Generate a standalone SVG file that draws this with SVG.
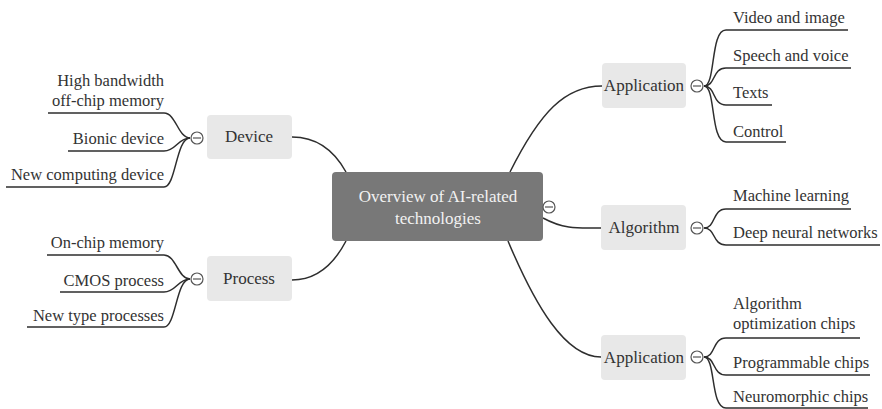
<svg xmlns="http://www.w3.org/2000/svg" width="882" height="409" viewBox="0 0 882 409">
<style>
.bg{fill:#fff}
.node rect{fill:#e8e8e8}
text{font-family:'Liberation Serif','Times New Roman','DejaVu Serif',serif}
.lbl{font-size:16.5px;fill:#333}
.nl{font-size:17px;fill:#333;text-anchor:middle}
.ct{font-size:17px;fill:#f2f2f2;text-anchor:middle}
.r{text-anchor:end}
.ln{fill:none;stroke:#2e2e2e;stroke-width:1.5}
.tg circle{fill:#fff;stroke:#555;stroke-width:1.2}
.tg line{stroke:#555;stroke-width:1.2}
</style>
<rect class="bg" width="882" height="409"/>
<g id="connectors">
<path class="ln" d="M292,137 C318,137 335,152 346,172"/>
<path class="ln" d="M346,241 C335,262 318,280 292,280"/>
<path class="ln" d="M510,172 C540,112 565,86 602,86"/>
<path class="ln" d="M543,218 C565,230 580,228 601,228"/>
<path class="ln" d="M508,241 C535,305 565,357 601,357"/>
<path class="ln" d="M48,113 L164,113 C176,113 178,138 190,138"/>
<path class="ln" d="M68,151 L164,151 C176,151 178,138 190,138"/>
<path class="ln" d="M6,187 L164,187 C176,187 176,138 190,138"/>
<path class="ln" d="M47,255 L164,255 C176,255 178,279 190,279"/>
<path class="ln" d="M60,292 L164,292 C176,292 178,279 190,279"/>
<path class="ln" d="M27,327 L164,327 C176,327 176,279 190,279"/>
<path class="ln" d="M704,86 C716,86 710,30 726,30 L848,30"/>
<path class="ln" d="M704,86 C716,86 712,68 726,68 L851,68"/>
<path class="ln" d="M704,86 C716,86 712,105 726,105 L772,105"/>
<path class="ln" d="M704,86 C716,86 710,142 726,142 L786,142"/>
<path class="ln" d="M704,228 C716,228 712,209 726,209 L851,209"/>
<path class="ln" d="M704,228 C716,228 712,245 726,245 L880,245"/>
<path class="ln" d="M704,357 C716,357 712,338 726,338 L860,338"/>
<path class="ln" d="M704,357 C716,357 712,375 726,375 L870,375"/>
<path class="ln" d="M704,357 C716,357 710,408 726,408 L868,408"/>
</g>
<g id="center">
<rect x="332" y="172" width="211" height="69" rx="4" fill="#787878"/>
<text class="ct" x="438" y="202">Overview of AI-related</text>
<text class="ct" x="438" y="224">technologies</text>
<g class="tg"><circle cx="549" cy="207" r="6"/><line x1="545" y1="207" x2="553" y2="207"/></g>
</g>
<g id="device" class="node">
<rect x="207" y="115" width="85" height="44" rx="4"/>
<text class="nl" x="249" y="142">Device</text>
<g class="tg"><circle cx="197" cy="138" r="6"/><line x1="193" y1="138" x2="201" y2="138"/></g>
</g>
<g id="high-bandwidth"><text class="lbl r" x="164" y="86">High bandwidth</text><text class="lbl r" x="164" y="106">off-chip memory</text></g>
<g id="bionic"><text class="lbl r" x="164" y="144">Bionic device</text></g>
<g id="new-computing"><text class="lbl r" x="164" y="180">New computing device</text></g>
<g id="process" class="node">
<rect x="207" y="256" width="85" height="45" rx="4"/>
<text class="nl" x="249" y="284">Process</text>
<g class="tg"><circle cx="197" cy="279" r="6"/><line x1="193" y1="279" x2="201" y2="279"/></g>
</g>
<g id="on-chip"><text class="lbl r" x="164" y="248">On-chip memory</text></g>
<g id="cmos"><text class="lbl r" x="164" y="286">CMOS process</text></g>
<g id="new-type"><text class="lbl r" x="164" y="321">New type processes</text></g>
<g id="application1" class="node">
<rect x="602" y="63" width="84" height="45" rx="4"/>
<text class="nl" x="644" y="91">Application</text>
<g class="tg"><circle cx="697" cy="86" r="6"/><line x1="693" y1="86" x2="701" y2="86"/></g>
</g>
<g id="video"><text class="lbl" x="733" y="23">Video and image</text></g>
<g id="speech"><text class="lbl" x="733" y="61">Speech and voice</text></g>
<g id="texts"><text class="lbl" x="733" y="98">Texts</text></g>
<g id="control"><text class="lbl" x="733" y="137">Control</text></g>
<g id="algorithm" class="node">
<rect x="601" y="205" width="85" height="45" rx="4"/>
<text class="nl" x="644" y="233">Algorithm</text>
<g class="tg"><circle cx="697" cy="228" r="6"/><line x1="693" y1="228" x2="701" y2="228"/></g>
</g>
<g id="ml"><text class="lbl" x="733" y="201">Machine learning</text></g>
<g id="dnn"><text class="lbl" x="733" y="238">Deep neural networks</text></g>
<g id="application2" class="node">
<rect x="601" y="335" width="85" height="45" rx="4"/>
<text class="nl" x="644" y="363">Application</text>
<g class="tg"><circle cx="697" cy="357" r="6"/><line x1="693" y1="357" x2="701" y2="357"/></g>
</g>
<g id="algo-opt"><text class="lbl" x="733" y="309">Algorithm</text><text class="lbl" x="733" y="329">optimization chips</text></g>
<g id="programmable"><text class="lbl" x="733" y="368">Programmable chips</text></g>
<g id="neuromorphic"><text class="lbl" x="733" y="402">Neuromorphic chips</text></g>
</svg>
